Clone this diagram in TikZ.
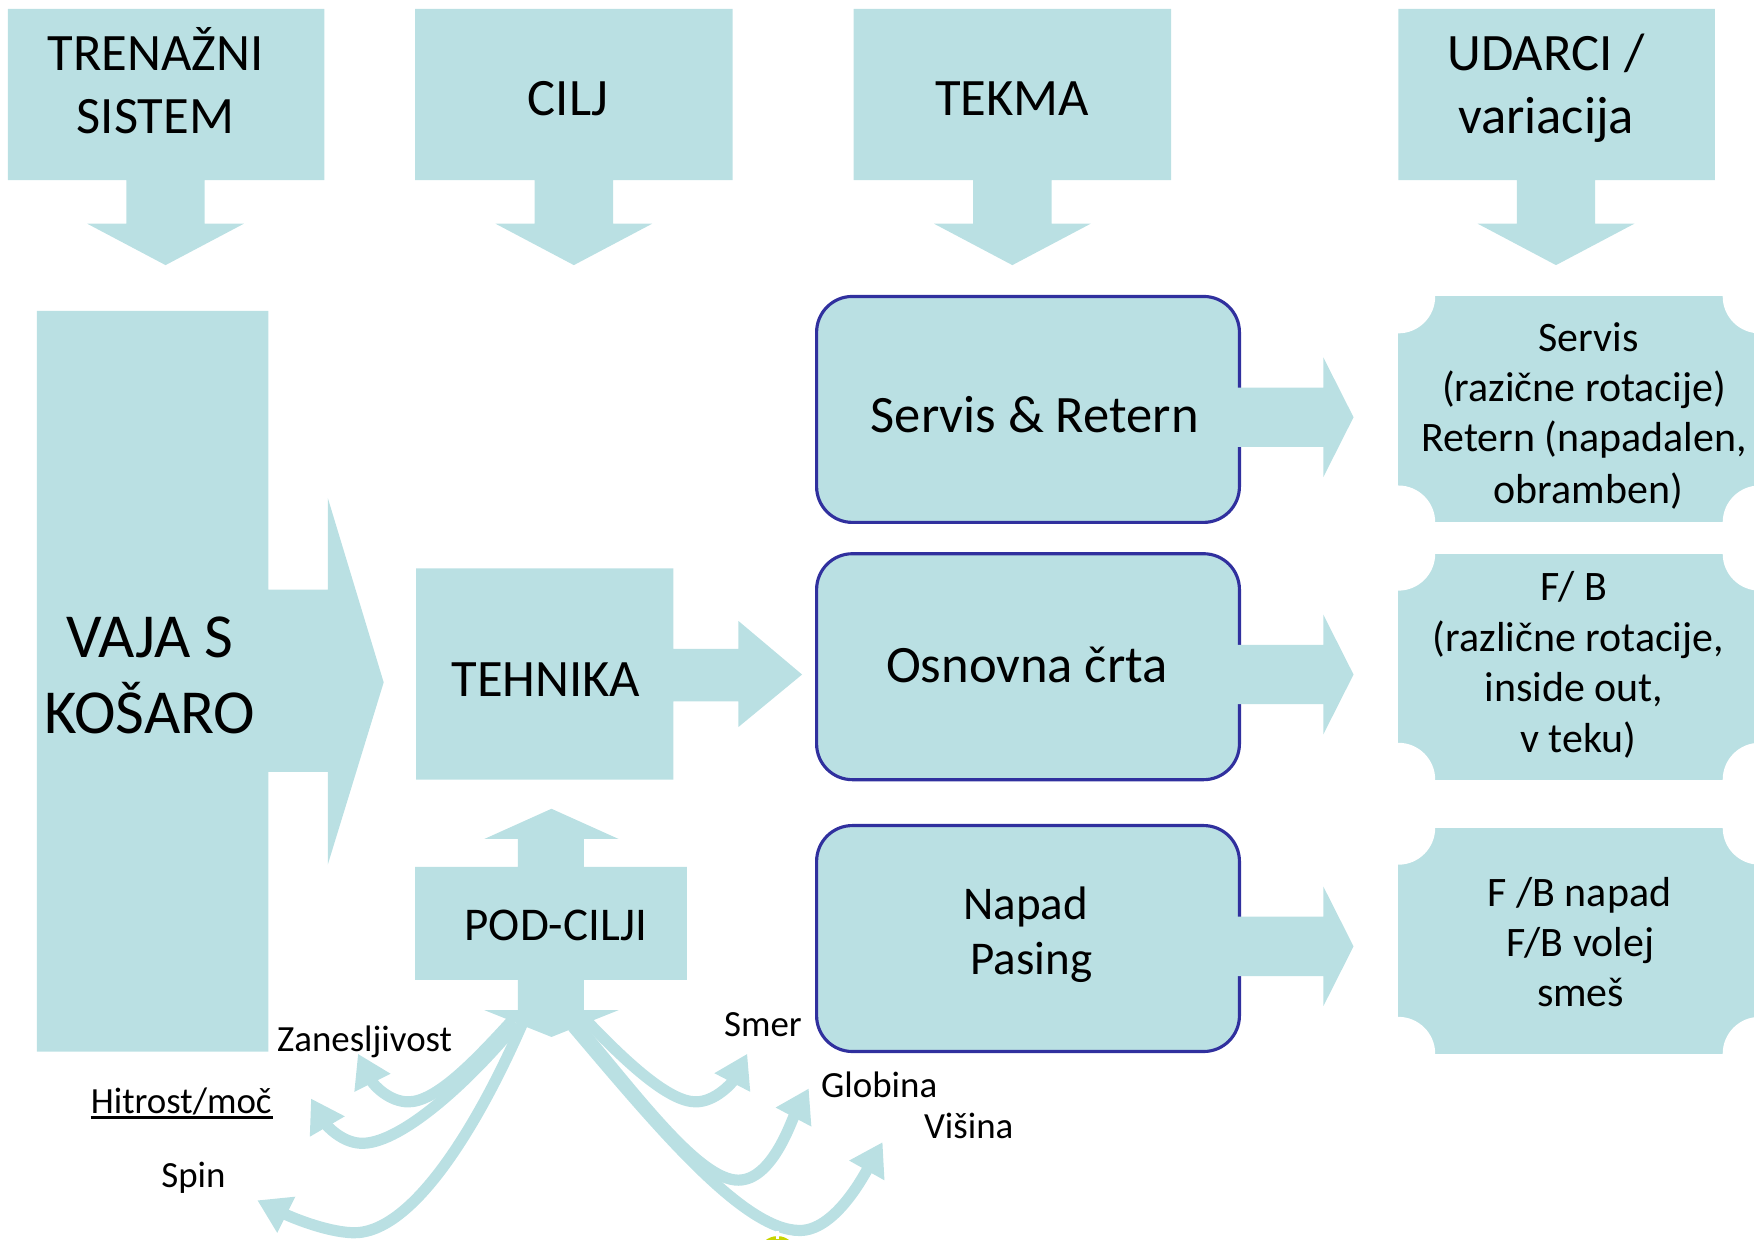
\documentclass[tikz,border=0pt]{standalone}
\usepackage{fontspec}
\setmainfont{Carlito}
\usetikzlibrary{arrows.meta}
\definecolor{lb}{RGB}{186,224,227}
\definecolor{bd}{RGB}{48,48,158}
\definecolor{yl}{RGB}{200,212,0}
\newcommand\dcall[3]{\fill[lb] (#1,8) -- (#2,8) -- (#2,161) -- (#3+35,161) -- (#3+35,200) -- (#3+70,200) -- (#3,237) -- (#3-70,200) -- (#3-35,200) -- (#3-35,161) -- (#1,161) -- cycle;}
\newcommand\rarr[1]{\fill[lb] (1106,#1-26.5) -- (1183,#1-26.5) -- (1183,#1-53.5) -- (1210,#1) -- (1183,#1+53.5) -- (1183,#1+26.5) -- (1106,#1+26.5) -- cycle;}
\begin{document}
\begin{tikzpicture}[x=1pt,y=-1pt,
  big/.style={font=\fontsize{47}{57}\selectfont, anchor=base, inner sep=0},
  huge/.style={font=\fontsize{56}{67}\selectfont, anchor=base, inner sep=0},
  mid/.style={font=\fontsize{42}{50}\selectfont, anchor=base, inner sep=0},
  rtx/.style={font=\fontsize{37.5}{45}\selectfont, anchor=base, inner sep=0},
  lab/.style={font=\fontsize{33}{40}\selectfont, anchor=base, inner sep=0},
  rbox/.style={draw=bd, fill=lb, line width=2.8pt, rounded corners=32pt, minimum width=378pt, minimum height=202pt, inner sep=0},
  curve/.style={draw=lb, line width=10pt, -{Triangle[width=34pt,length=29pt]}}]
\useasboundingbox (0,0) rectangle (1568,1108);

% top callouts
\dcall{7}{290}{148}
\dcall{371}{655}{513}
\dcall{763}{1047}{905}
\dcall{1250}{1533}{1391}
\node[big] (t1a) at (139,63) {TRENAŽNI};
\node[big] (t1b) at (139,119) {SISTEM};
\node[big] (t2) at (508,103) {CILJ};
\node[big] (t3) at (905,103) {TEKMA};
\node[big] (t4a) at (1382,63) {UDARCI /};
\node[big] (t4b) at (1382,119) {variacija};

% VAJA S KOSARO
\fill[lb] (33,278) -- (240,278) -- (240,527) -- (293,527) -- (293,445) -- (343,610) -- (293,773) -- (293,690) -- (240,690) -- (240,940) -- (33,940) -- cycle;
\node[huge] (v1) at (134,588) {VAJA S};
\node[huge] (v2) at (134,656) {KOŠARO};

% TEHNIKA
\fill[lb] (372,508) -- (602,508) -- (602,580) -- (660,580) -- (660,555) -- (717,603) -- (660,650) -- (660,627) -- (602,627) -- (602,697) -- (372,697) -- cycle;
\node[big] (teh) at (488,623) {TEHNIKA};

% POD-CILJI
\fill[lb] (371,775) -- (463,775) -- (463,750) -- (433,750) -- (493,723) -- (553,750) -- (522,750) -- (522,775) -- (614,775) -- (614,876) -- (522,876) -- (522,903) -- (553,903) -- (493,927) -- (433,903) -- (463,903) -- (463,876) -- (371,876) -- cycle;
\node[mid] (pod) at (497,841) {POD-CILJI};
\coordinate (hd) at (493,912);

% curved arrows
\draw[curve] (458,912) .. controls (425,948) and (390,985) .. (365,985) .. controls (348,985) and (334,970) .. (320,942);
\draw[curve] (462,915) .. controls (415,972) and (355,1024) .. (322,1022) .. controls (305,1021) and (292,1006) .. (278,982);
\draw[curve] (467,915) .. controls (430,1000) and (370,1104) .. (315,1102) .. controls (290,1101) and (258,1087) .. (230,1073);
\draw[curve] (522,910) .. controls (560,950) and (598,985) .. (622,985) .. controls (640,985) and (655,967) .. (668,942);
\draw[curve] (515,915) .. controls (570,980) and (625,1055) .. (660,1055) .. controls (690,1055) and (707,1003) .. (723,973);
\draw[curve] (512,918) .. controls (590,1010) and (665,1100) .. (715,1100) .. controls (745,1100) and (770,1055) .. (789,1021);

\node[lab] (l1) at (326,940) {Zanesljivost};
\node[lab] (l2) at (162,995) {Hitrost/moč};
\draw[line width=2pt] (81,999) -- (244,999);
\node[lab] (l3) at (173,1062) {Spin};
\node[lab] (l4) at (682,927) {Smer};
\node[lab] (l5) at (786,981) {Globina};
\node[lab] (l6) at (866,1018) {Višina};

% yellow fragment
\fill[yl] (695,1122) circle (17);
\draw[white, line width=2pt] (695,1100) -- (695,1108);

% rounded boxes
\node[rbox] (b1) at (919,366) {};
\node[rbox] (b2) at (919,596) {};
\node[rbox] (b3) at (919,839) {};
\rarr{373}
\rarr{603}
\rarr{846}
\node[big] (b1t) at (925,387) {Servis \& Retern};
\node[big] (b2t) at (918,610) {Osnovna črta};
\node[mid] (b3a) at (917,822) {Napad};
\node[mid] (b3b) at (922,871) {Pasing};

% scalloped boxes
\fill[lb] (1250,265) rectangle (1573,467);
\fill[lb] (1250,495) rectangle (1573,697);
\fill[lb] (1250,740) rectangle (1573,942);
\foreach \ya/\yb in {265/467,495/697,740/942}{
  \fill[white] (1250,\ya) circle (33);
  \fill[white] (1250,\yb) circle (33);
  \fill[white] (1573,\ya) circle (33);
  \fill[white] (1573,\yb) circle (33);
}
\node[rtx] (s1) at (1420,314) {Servis};
\node[rtx] (s2) at (1416,359) {(razične rotacije)};
\node[rtx] (s3) at (1416,404) {Retern (napadalen,};
\node[rtx] (s4) at (1420,450) {obramben)};
\node[rtx] (f1) at (1407,537) {F/ B};
\node[rtx] (f2) at (1411,582) {(različne rotacije,};
\node[rtx] (f3) at (1407,627) {inside out,};
\node[rtx] (f4) at (1411,673) {v teku)};
\node[rtx] (n1) at (1412,810) {F /B napad};
\node[rtx] (n2) at (1413,855) {F/B volej};
\node[rtx] (n3) at (1413,900) {smeš};
\end{tikzpicture}
\end{document}
